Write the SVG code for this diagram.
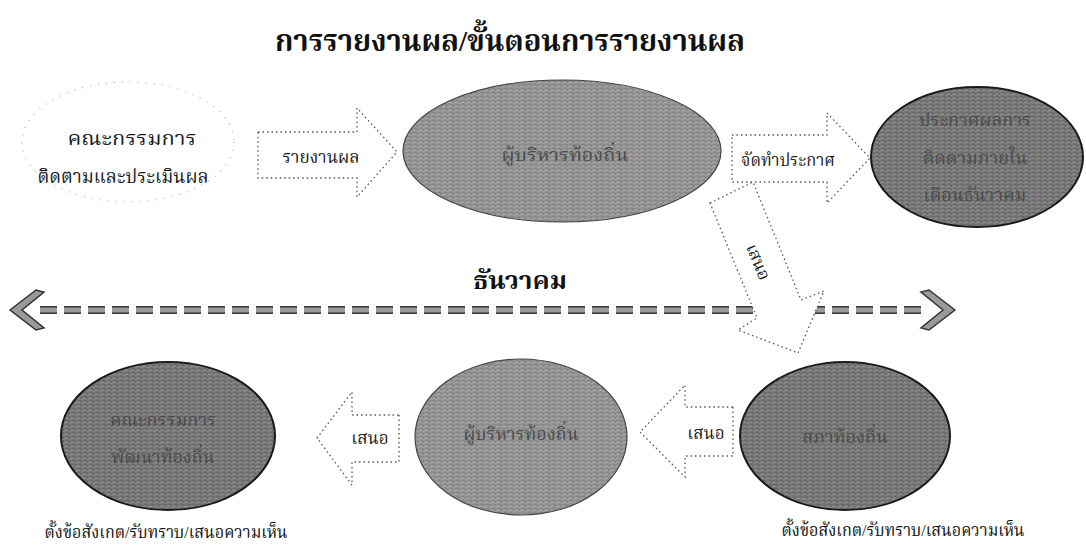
<svg xmlns="http://www.w3.org/2000/svg" width="1086" height="548" viewBox="0 0 1086 548">
<style>
  text { font-family: "Liberation Serif", "Noto Serif Thai", "Kinnari", "Norasi", "DejaVu Serif", serif; text-anchor: middle; dominant-baseline: central; }
  .title { font-size: 30px; font-weight: bold; fill: #111; }
  .lbl { font-size: 17px; fill: #1a1a1a; }
  .in { font-size: 18px; fill: #4a4a4a; }
  .note { font-size: 17px; fill: #111; }
  .arrow { fill: #fff; stroke: #555; stroke-width: 1.3; stroke-dasharray: 1.5 3; }
  .ell-light { fill: url(#texLight); stroke: #444; stroke-width: 1.2; }
  .ell-dark { fill: url(#texDark); stroke: #1a1a1a; stroke-width: 2; }
</style>
<defs>
  <pattern id="texLight" width="6" height="4" patternUnits="userSpaceOnUse">
    <rect width="6" height="4" fill="#8f8f8f"/>
    <path d="M0 3 L3 1 M3 4 L6 2" stroke="#b5b5b5" stroke-width="0.8"/>
    <path d="M1 0 L4 2" stroke="#6a6a6a" stroke-width="0.6"/>
  </pattern>
  <pattern id="texDark" width="6" height="4" patternUnits="userSpaceOnUse">
    <rect width="6" height="4" fill="#737373"/>
    <path d="M0 3 L3 1 M3 4 L6 2" stroke="#a0a0a0" stroke-width="0.8"/>
    <path d="M1 0 L4 2" stroke="#4a4a4a" stroke-width="0.6"/>
  </pattern>
</defs>

<text class="title" x="510" y="40" textLength="470" lengthAdjust="spacingAndGlyphs">การรายงานผล/ขั้นตอนการรายงานผล</text>

<g id="node-committee">
  <ellipse cx="128" cy="142" rx="106" ry="60" fill="#fff" stroke="#b0b0b0" stroke-width="1.2" stroke-dasharray="1 7"/>
  <text class="lbl" x="132" y="138" style="font-size:19px" textLength="129" lengthAdjust="spacingAndGlyphs">คณะกรรมการ</text>
  <text class="lbl" x="123" y="176" style="font-size:19px" textLength="171" lengthAdjust="spacingAndGlyphs">ติดตามและประเมินผล</text>
</g>

<g id="node-exec-top">
  <ellipse class="ell-light" cx="562" cy="151" rx="159" ry="71"/>
  <text class="in" x="565" y="155" textLength="127" lengthAdjust="spacingAndGlyphs">ผู้บริหารท้องถิ่น</text>
</g>

<g id="node-announce">
  <ellipse class="ell-dark" cx="977" cy="157" rx="106" ry="70"/>
  <text class="in" x="975" y="120">ประกาศผลการ</text>
  <text class="in" x="975" y="158">ติดตามภายใน</text>
  <text class="in" x="975" y="195">เดือนธันวาคม</text>
</g>

<g id="node-devcommittee">
  <ellipse class="ell-dark" cx="168" cy="436" rx="107" ry="74"/>
  <text class="in" x="163" y="420">คณะกรรมการ</text>
  <text class="in" x="163" y="457">พัฒนาท้องถิ่น</text>
</g>

<g id="node-exec-bottom">
  <ellipse class="ell-light" cx="521" cy="437" rx="106" ry="78"/>
  <text class="in" x="521" y="434">ผู้บริหารท้องถิ่น</text>
</g>

<g id="node-council">
  <ellipse class="ell-dark" cx="845" cy="436" rx="105" ry="74"/>
  <text class="in" x="845" y="437">สภาท้องถิ่น</text>
</g>

<text class="note" x="166" y="532" textLength="243" lengthAdjust="spacingAndGlyphs">ตั้งข้อสังเกต/รับทราบ/เสนอความเห็น</text>
<text class="note" x="903" y="530" textLength="243" lengthAdjust="spacingAndGlyphs">ตั้งข้อสังเกต/รับทราบ/เสนอความเห็น</text>

<text x="520" y="280" style="font-size:25px;font-weight:bold;fill:#111" textLength="94" lengthAdjust="spacingAndGlyphs">ธันวาคม</text>

<g id="connectors">
  <g id="timeline">
    <line x1="40" y1="310" x2="925" y2="310" stroke="#333" stroke-width="8" stroke-dasharray="17 7"/>
    <line x1="40" y1="310" x2="925" y2="310" stroke="#9a9a9a" stroke-width="5" stroke-dasharray="17 7"/>
    <path d="M10 310 L36 290 L44 292 L22 310 L44 328 L36 330 Z" fill="#9a9a9a" stroke="#333" stroke-width="1.5"/>
    <path d="M955 310 L929 290 L921 292 L943 310 L921 328 L929 330 Z" fill="#9a9a9a" stroke="#333" stroke-width="1.5"/>
  </g>
  <g id="arrow-report">
    <path class="arrow" d="M258 132 H357 V108 L397 152 L357 197 V178 H258 Z"/>
    <text class="lbl" x="321" y="157" textLength="77" lengthAdjust="spacingAndGlyphs">รายงานผล</text>
  </g>
  <g id="arrow-announce">
    <path class="arrow" d="M732 135 H827 V113 L870 158 L827 203 V182 H732 Z"/>
    <text class="lbl" x="788" y="160" textLength="94" lengthAdjust="spacingAndGlyphs">จัดทำประกาศ</text>
  </g>
  <g id="arrow-propose-diag">
    <path class="arrow" d="M710 203 L753 182 L801 300 L824 291 L798 353 L738 330 L757 318 Z"/>
    <text class="lbl" x="0" y="0" transform="translate(758 262) rotate(67)">เสนอ</text>
  </g>
  <g id="arrow-propose-1">
    <path class="arrow" d="M399 415 V462 H352 V485 L317 438 L352 392 V415 Z"/>
    <text class="lbl" x="370" y="438">เสนอ</text>
  </g>
  <g id="arrow-propose-2">
    <path class="arrow" d="M733 407 V456 H685 V477 L640 432 L685 385 V407 Z"/>
    <text class="lbl" x="706" y="433">เสนอ</text>
  </g>
</g>
</svg>
